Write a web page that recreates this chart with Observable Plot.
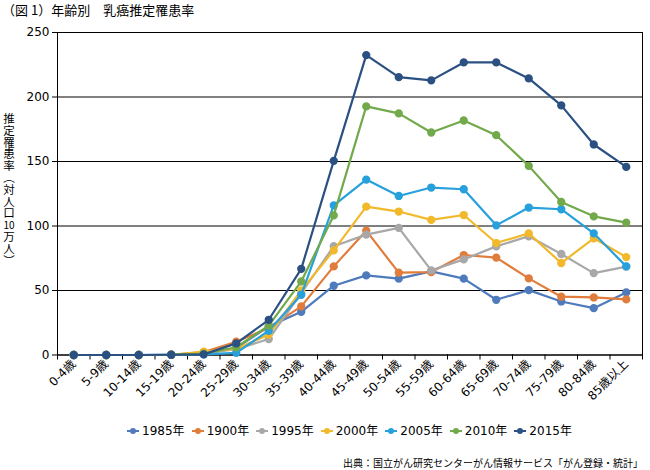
<!DOCTYPE html>
<html>
<head>
<meta charset="utf-8">
<script src="https://cdn.jsdelivr.net/npm/d3@7"></script>
<script src="https://cdn.jsdelivr.net/npm/@observablehq/plot@0.6"></script>
<style>
  body { margin: 0; background: #fff; width: 650px; height: 470px; position: relative; overflow: hidden;
         font-family: "DejaVu Sans", "Noto Sans CJK JP", sans-serif; color: #000; }
  #title { position: absolute; left: 2px; top: 1px; font-size: 13px; font-family: "Noto Sans CJK JP", sans-serif; line-height: 18px; }
  #chart { position: absolute; left: 0; top: 20px; }
  #ylabel { position: absolute; left: 0px; top: 110px; }
  #legend { position: absolute; left: 57px; width: 585px; top: 423px; display: flex; justify-content: center; gap: 7px;
            font-size: 12px; line-height: 16px; }
  #legend .item { display: flex; align-items: center; gap: 3px; }
  #caption { position: absolute; right: 7px; top: 456px; font-size: 10px; font-family: "Noto Sans CJK JP", sans-serif; line-height: 14px; }
</style>
</head>
<body>
<div id="title">（図 1）年齢別　乳癌推定罹患率</div>
<div id="chart"></div>
<svg id="ylabel" width="20" height="160"></svg>
<div id="legend"></div>
<div id="caption">出典：国立がん研究センターがん情報サービス「がん登録・統計」</div>
<script>
const ages = ["0-4歳","5-9歳","10-14歳","15-19歳","20-24歳","25-29歳","30-34歳","35-39歳","40-44歳","45-49歳","50-54歳","55-59歳","60-64歳","65-69歳","70-74歳","75-79歳","80-84歳","85歳以上"];
const years = ["1985年","1900年","1995年","2000年","2005年","2010年","2015年"];
const colors = ["#4f7bbd","#e07d3c","#a8a8a8","#f1b92b","#27a0dc","#72a94b","#2b5082"];
const yTicks = [0, 50, 100, 150, 200, 250];
const yLabelParts = ["推","定","罹","患","率","︵","対","人","口","10","万","人","︶"];

const v1985 = [0,0,0,0.2,0.8,5.5,22,33.5,53.7,61.7,59.2,64.8,59.2,42.8,50.3,41.5,36.3,48.5];
const v1900 = [0,0,0,0.2,2.2,10.3,21,37.7,68.7,96.4,63.8,64.3,77.5,75.5,59.4,45.2,44.6,43.1];
const v1995 = [0,0,0,0.1,1.2,4.5,12.4,48,84.3,93.3,98.5,65.6,74.1,84.2,92,78.3,63.5,68.5];
const v2000 = [0,0,0,0.2,2.6,4.8,15.8,50,81.1,115,111.2,104.7,108.5,86.8,94.3,71.3,90.5,75.9];
const v2005 = [0,0,0,0.1,0.5,1.7,18.8,46.7,116,136,123.3,129.8,128.5,100.5,114.3,113,94.3,68.7];
const v2010 = [0,0,0,0.1,1,6,22.8,57,108.2,192.7,187.3,172.5,181.8,170.4,146.6,118.6,107.5,102.6];
const v2015 = [0,0,0,0.2,0.5,9,27.3,66.8,150.5,232.5,215.4,212.9,226.8,226.8,214.4,193.5,163.2,145.8];
const seriesValues = [v1985, v1900, v1995, v2000, v2005, v2010, v2015];

const seriesMarks = [];
years.forEach((yr, s) => {
  const rows = seriesValues[s].map((v, i) => ({i, v, year: yr}));
  seriesMarks.push(Plot.line(rows, {x: "i", y: "v", stroke: colors[s], strokeWidth: 2.2}));
  seriesMarks.push(Plot.dot(rows, {x: "i", y: "v", fill: colors[s], stroke: colors[s], r: 3.4}));
});

const boundaries = d3.range(ages.length + 1).map(k => k - 0.5);

const chart = Plot.plot({
  width: 650,
  height: 400,
  marginTop: 12,
  marginLeft: 57,
  marginRight: 8,
  marginBottom: 65.5,
  style: {fontFamily: '"DejaVu Sans", "Noto Sans CJK JP", sans-serif', background: "transparent", color: "#000"},
  x: {domain: [-0.5, ages.length - 0.5]},
  y: {domain: [0, 250]},
  marks: [
    Plot.gridY(yTicks, {stroke: "#000", strokeOpacity: 1, strokeWidth: 1}),
    Plot.frame({stroke: "#000"}),
    Plot.axisY({ticks: yTicks, tickSize: 5, tickPadding: 3, fontSize: 12, label: null}),
    Plot.axisX({ticks: boundaries, tickSize: 5, tickFormat: () => "", label: null}),
    Plot.axisX({ticks: d3.range(ages.length), tickSize: 0, tickPadding: 7, tickRotate: -45,
                tickFormat: i => ages[i], fontSize: 12, label: null}),
    ...seriesMarks
  ]
});
document.getElementById("chart").appendChild(chart);

const ylabel = d3.select("#ylabel");
ylabel.selectAll("text")
  .data(yLabelParts)
  .join("text")
  .attr("x", 9)
  .attr("y", (d, k) => 8 + k * 11.8)
  .attr("text-anchor", "middle")
  .attr("dominant-baseline", "central")
  .attr("font-family", '"Noto Sans CJK JP", sans-serif')
  .attr("font-size", d => d.length > 1 ? 10 : 11.5)
  .text(d => d);

const legend = document.getElementById("legend");
years.forEach((yr, s) => {
  const item = document.createElement("div");
  item.className = "item";
  item.innerHTML = `<svg width="12" height="8"><line x1="0" y1="4" x2="12" y2="4" stroke="${colors[s]}" stroke-width="2"/><circle cx="6" cy="4" r="3" fill="${colors[s]}"/></svg><span>${yr}</span>`;
  legend.appendChild(item);
});
</script>
</body>
</html>
